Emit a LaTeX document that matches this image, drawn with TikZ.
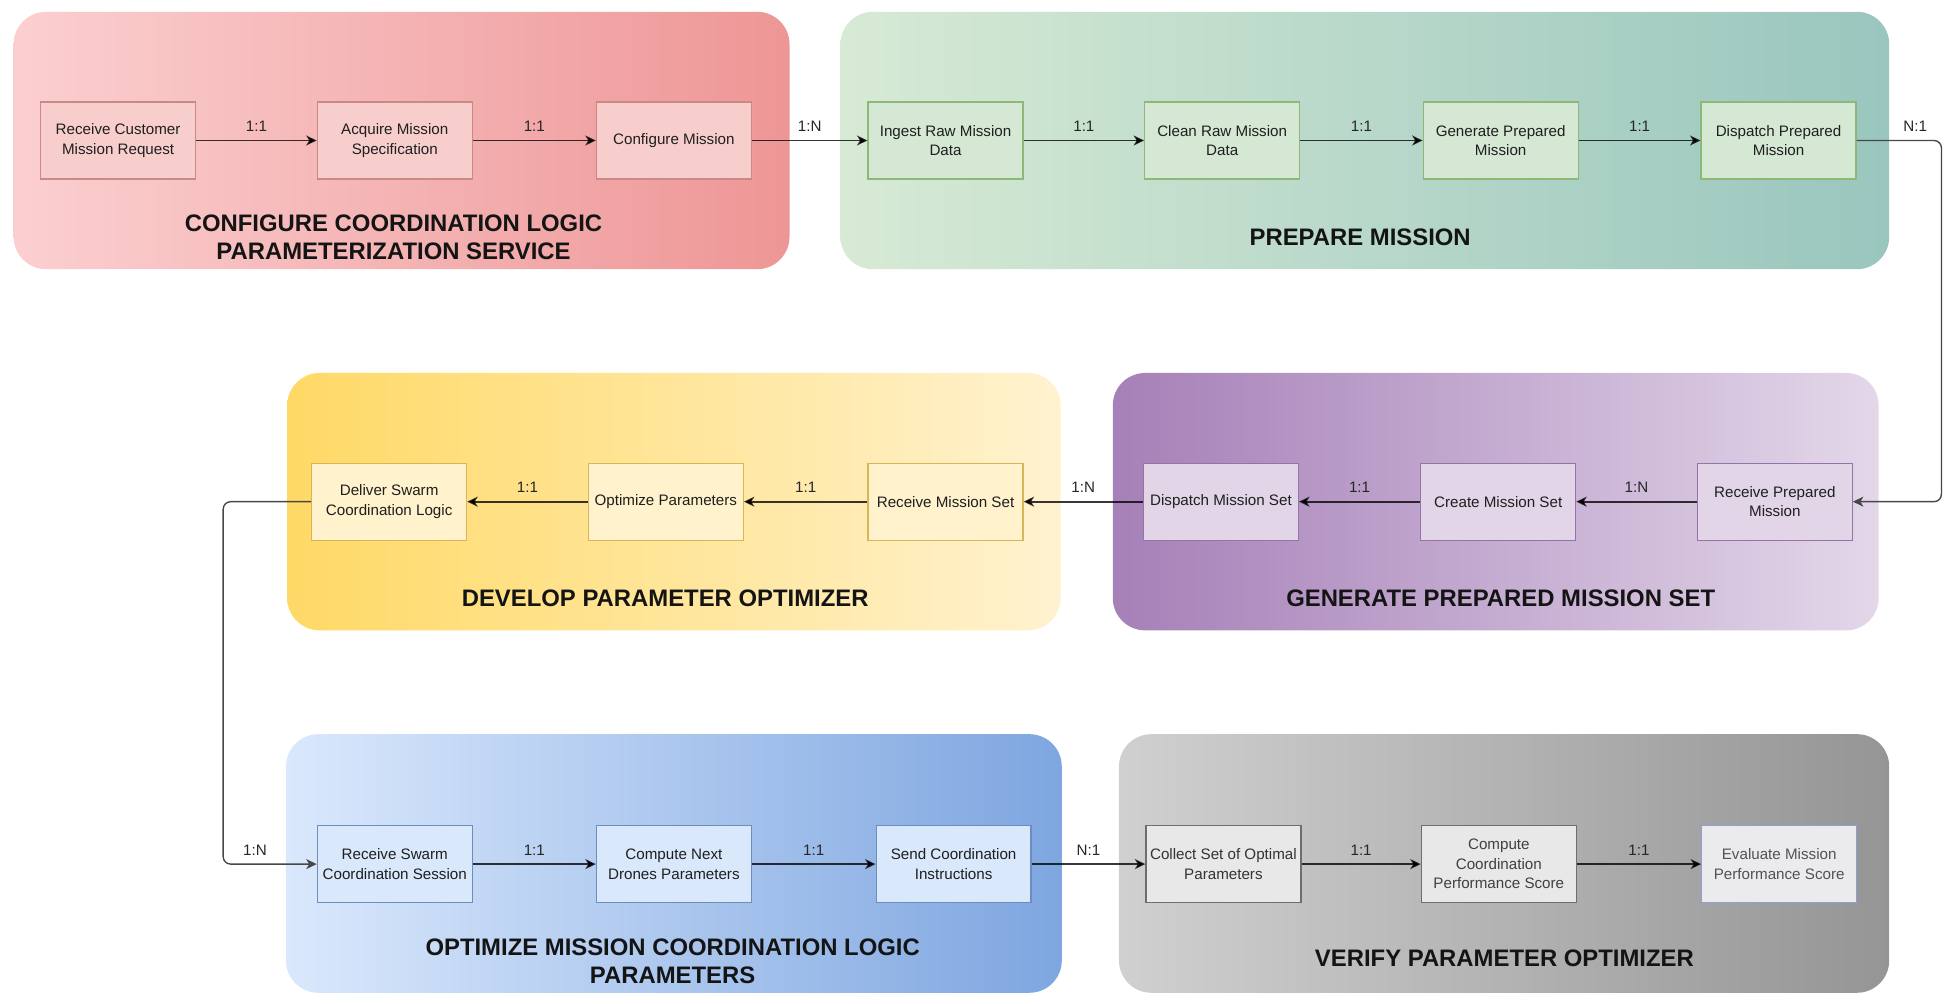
\documentclass[tikz,border=0pt]{standalone}
\usepackage{fontspec}
\setmainfont{Liberation Sans}
\usetikzlibrary{arrows.meta}
\definecolor{redL}{HTML}{FBCFD0}
\definecolor{redR}{HTML}{EE9696}
\definecolor{grnL}{HTML}{D7EAD5}
\definecolor{grnR}{HTML}{99C6BE}
\definecolor{ylwL}{HTML}{FFD966}
\definecolor{ylwR}{HTML}{FFF2CF}
\definecolor{purL}{HTML}{A680B8}
\definecolor{purR}{HTML}{E3D7E9}
\definecolor{bluL}{HTML}{DAE8FC}
\definecolor{bluR}{HTML}{7EA6E0}
\definecolor{gryL}{HTML}{D0D0D0}
\definecolor{gryR}{HTML}{959595}
\begin{document}
\begin{tikzpicture}[x=0.5pt,y=-0.5pt,
  box/.style={draw, line width=0.5pt, minimum width=62.3pt, minimum height=31pt,
    align=center, inner sep=1pt, text=black!88, font=\fontsize{6.1}{7.8}\selectfont},
  redbox/.style={box, fill=HTML-F8CECC, draw=HTML-C98A87},
  title/.style={align=center, text=black!92, font=\bfseries\fontsize{9.6}{11.5}\selectfont},
  conn/.style={draw=black, draw opacity=0.78, line width=0.7pt,
    -{Stealth[length=4.2pt,width=4pt,inset=1.2pt]}},
  outer/.style={draw=black!72, line width=0.55pt, rounded corners=3pt,
    -{Stealth[length=4.2pt,width=4pt,inset=1.2pt]}},
  lbl/.style={above=3.3pt, inner sep=0pt, text=black!85, font=\fontsize{6.1}{7}\selectfont},
  cont/.style={rounded corners=13pt}
]
\colorlet{HTML-F8CECC}{red!0}
\definecolor{HTML-F8CECC}{HTML}{F8CECC}
\definecolor{HTML-C98A87}{HTML}{C98A87}
\definecolor{gbF}{HTML}{D5E8D4}\definecolor{gbD}{HTML}{8DB878}
\definecolor{ybF}{HTML}{FFF2CC}\definecolor{ybD}{HTML}{D6B656}
\definecolor{pbF}{HTML}{E1D5E7}\definecolor{pbD}{HTML}{9673A6}
\definecolor{bbF}{HTML}{DAE8FC}\definecolor{bbD}{HTML}{6C8EBF}
\definecolor{kbF}{HTML}{E8E8E8}\definecolor{kbD}{HTML}{6E6E6E}
\definecolor{ebF}{HTML}{EBEBEE}\definecolor{ebD}{HTML}{8E9FD0}

\useasboundingbox (0,0) rectangle (1570,807.5);

% containers
\shade[cont, left color=redL, right color=redR] (11,9.5) rectangle (635,216.5);
\shade[cont, left color=grnL, right color=grnR] (676,9.5) rectangle (1519.5,216.5);
\shade[cont, left color=ylwL, right color=ylwR] (231,300) rectangle (853,507);
\shade[cont, left color=purL, right color=purR] (895,300) rectangle (1511,507);
\shade[cont, left color=bluL, right color=bluR] (230,590.5) rectangle (854,798.5);
\shade[cont, left color=gryL, right color=gryR] (900,590.5) rectangle (1519.5,798.5);

% titles
\node[title] (t1) at (316.5,191) {CONFIGURE COORDINATION LOGIC\\PARAMETERIZATION SERVICE};
\node[title] (t2) at (1094,191) {PREPARE MISSION};
\node[title] (t3) at (535,481) {DEVELOP PARAMETER OPTIMIZER};
\node[title] (t4) at (1207,481) {GENERATE PREPARED MISSION SET};
\node[title] (t5) at (541,773) {OPTIMIZE MISSION COORDINATION LOGIC\\PARAMETERS};
\node[title] (t6) at (1210,771) {VERIFY PARAMETER OPTIMIZER};

% row 1
\node[redbox] (b1) at (95,113) {Receive Customer\\Mission Request};
\node[redbox] (b2) at (317.5,113) {Acquire Mission\\Specification};
\node[redbox] (b3) at (542,113) {Configure Mission};
\node[box, fill=gbF, draw=gbD] (b4) at (760.5,113) {Ingest Raw Mission\\Data};
\node[box, fill=gbF, draw=gbD] (b5) at (983,113) {Clean Raw Mission\\Data};
\node[box, fill=gbF, draw=gbD] (b6) at (1207,113) {Generate Prepared\\Mission};
\node[box, fill=gbF, draw=gbD] (b7) at (1430.5,113) {Dispatch Prepared\\Mission};

% row 2
\node[box, fill=ybF, draw=ybD] (dsw) at (313,403.5) {Deliver Swarm\\Coordination Logic};
\node[box, fill=ybF, draw=ybD] (opt) at (535.5,403.5) {Optimize Parameters};
\node[box, fill=ybF, draw=ybD] (rms) at (760.5,403.5) {Receive Mission Set};
\node[box, fill=pbF, draw=pbD] (dms) at (982,403.5) {Dispatch Mission Set};
\node[box, fill=pbF, draw=pbD] (cms) at (1205,403.5) {Create Mission Set};
\node[box, fill=pbF, draw=pbD] (rpm) at (1427.5,403.5) {Receive Prepared\\Mission};

% row 3
\node[box, fill=bbF, draw=bbD] (rsw) at (317.5,695) {Receive Swarm\\Coordination Session};
\node[box, fill=bbF, draw=bbD] (cnd) at (542,695) {Compute Next\\Drones Parameters};
\node[box, fill=bbF, draw=bbD] (sci) at (767,695) {Send Coordination\\Instructions};
\node[box, fill=kbF, draw=kbD, text=black!80] (col) at (984,695) {Collect Set of Optimal\\Parameters};
\node[box, fill=kbF, draw=kbD, text=black!75] (ccp) at (1205.5,695) {Compute\\Coordination\\Performance Score};
\node[box, fill=ebF, draw=ebD, text=black!68] (emp) at (1431,695) {Evaluate Mission\\Performance Score};

% connectors row 1
\draw[conn] (b1) -- (b2) node[midway, lbl] {1:1};
\draw[conn] (b2) -- (b3) node[midway, lbl] {1:1};
\draw[conn] (b3) -- (b4) node[midway, lbl] {1:N};
\draw[conn] (b4) -- (b5) node[midway, lbl] {1:1};
\draw[conn] (b5) -- (b6) node[midway, lbl] {1:1};
\draw[conn] (b6) -- (b7) node[midway, lbl] {1:1};

% right turn
\coordinate (k1) at (1561.5,113);
\draw[outer] (b7.east) -- node[pos=0.69, lbl] {N:1} (k1) |- (rpm.east);

% row 2
\draw[conn] (rpm) -- (cms) node[midway, lbl] {1:N};
\draw[conn] (cms) -- (dms) node[midway, lbl] {1:1};
\draw[conn] (dms) -- (rms) node[midway, lbl] {1:N};
\draw[conn] (rms) -- (opt) node[midway, lbl] {1:1};
\draw[conn] (opt) -- (dsw) node[midway, lbl] {1:1};

% left turn
\coordinate (k2) at (179.5,403.5);
\draw[outer] (dsw.west) -- (k2) |- node[pos=0.67, lbl] {1:N} (rsw.west);

% row 3
\draw[conn] (rsw) -- (cnd) node[midway, lbl] {1:1};
\draw[conn] (cnd) -- (sci) node[midway, lbl] {1:1};
\draw[conn] (sci) -- (col) node[midway, lbl] {N:1};
\draw[conn] (col) -- (ccp) node[midway, lbl] {1:1};
\draw[conn] (ccp) -- (emp) node[midway, lbl] {1:1};
\end{tikzpicture}
\end{document}
